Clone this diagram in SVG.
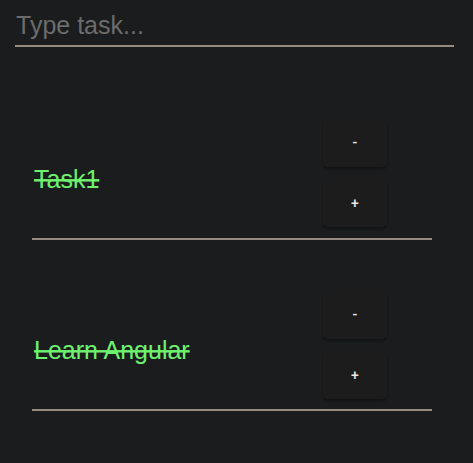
<svg xmlns="http://www.w3.org/2000/svg" width="473" height="463" viewBox="0 0 473 463">
<defs>
<style>
.bg{fill:#1b1c1e}
.rule{stroke:#958b7f;stroke-width:2}
.task{font-family:"Liberation Sans",Arial,sans-serif;font-size:25px;fill:#6ef26e;text-decoration:line-through}
.btn{fill:#1c1d1f;filter:url(#sh)}
.btxt{font-family:Roboto,"Liberation Sans",sans-serif;font-size:14px;font-weight:500;fill:#e6e6e6;text-anchor:middle}
.ph{font-family:"Liberation Sans",Arial,sans-serif;font-size:25px;fill:#6c6c6c}
</style>
<filter id="sh" x="-20%" y="-20%" width="140%" height="150%">
<feDropShadow dx="0" dy="2" stdDeviation="1.5" flood-color="#000" flood-opacity="0.4"/>
</filter>
</defs>
<rect class="bg" x="0" y="0" width="473" height="463"/>
<g id="input">
<text class="ph" x="16" y="34">Type task...</text>
<line class="rule" x1="15" y1="46" x2="454" y2="46"/>
</g>
<g id="task1">
<text class="task" x="34" y="188">Task1</text>
<line class="rule" x1="32" y1="239" x2="432" y2="239"/>
<g id="task1-minus">
<rect class="btn" x="323" y="118" width="64" height="49" rx="5"/>
<text class="btxt" x="355" y="147">-</text>
</g>
<g id="task1-plus">
<rect class="btn" x="323" y="178" width="64" height="49" rx="5"/>
<text class="btxt" x="355" y="208">+</text>
</g>
</g>
<g id="task2">
<text class="task" x="34" y="359">Learn Angular</text>
<line class="rule" x1="32" y1="410" x2="432" y2="410"/>
<g id="task2-minus">
<rect class="btn" x="323" y="290" width="64" height="49" rx="5"/>
<text class="btxt" x="355" y="319">-</text>
</g>
<g id="task2-plus">
<rect class="btn" x="323" y="350" width="64" height="49" rx="5"/>
<text class="btxt" x="355" y="380">+</text>
</g>
</g>
<g id="connectors"/>
</svg>
